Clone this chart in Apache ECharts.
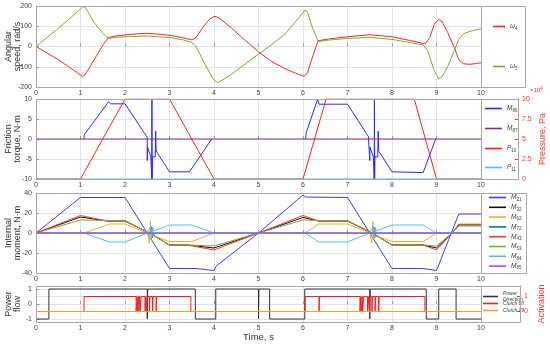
<!DOCTYPE html>
<html><head><meta charset="utf-8">
<script src="https://cdn.jsdelivr.net/npm/echarts@6/dist/echarts.min.js"></script>
<style>html,body{margin:0;padding:0;background:#fff}#c{width:550px;height:344px}</style>
</head><body><div id="c"></div><script>
// ---------- tick values ----------
const timeTicks = [0,1,2,3,4,5,6,7,8,9,10];
const speedTicks = [-200,-100,0,100,200];
const torqueTicks = [-10,-5,0,5,10];
const pressureTicks = [0,25000,50000,75000,100000];
const momentTicks = [-40,-20,0,20,40];
const flowTicks = [-1,0,1];
const activationTicks = [0,1];

// ---------- panel 1: angular speed (rad/s) ----------
const omega4 = [[0,0],[0.5,-65],[0.9,-125],[1.0,-142],[1.05,-147],[1.1,-140],[1.2,-105],[1.35,-50],[1.5,5],[1.63,45],[1.8,52],[2.0,57],[2.3,63],[2.5,65],[2.8,60],[3.0,55],[3.3,43],[3.5,33],[3.6,45],[3.75,95],[3.9,135],[4.0,148],[4.05,148],[4.15,135],[4.4,90],[4.7,30],[5.0,-26],[5.3,-75],[5.6,-110],[5.9,-138],[6.03,-147],[6.1,-130],[6.2,-60],[6.34,28],[6.6,38],[7.0,48],[7.5,58],[8.0,48],[8.4,30],[8.7,15],[8.75,14],[8.85,45],[8.95,110],[9.05,134],[9.12,125],[9.25,70],[9.4,-5],[9.5,-65],[9.6,-85],[9.75,-88],[9.9,-84],[10,-80]];
const omega5 = [[0,0],[0.5,90],[0.9,165],[1.0,185],[1.06,198],[1.12,190],[1.3,120],[1.5,65],[1.63,40],[1.8,45],[2.0,48],[2.5,52],[3.0,44],[3.3,33],[3.5,20],[3.6,0],[3.8,-90],[4.0,-165],[4.08,-178],[4.2,-165],[4.5,-120],[4.8,-70],[5.0,-38],[5.3,10],[5.6,62],[5.9,140],[6.04,180],[6.1,170],[6.2,100],[6.34,25],[6.6,32],[7.0,40],[7.5,45],[8.0,35],[8.4,20],[8.7,8],[8.8,-20],[8.95,-120],[9.05,-160],[9.12,-150],[9.25,-100],[9.4,-20],[9.5,35],[9.6,62],[9.75,75],[10,88]];

// ---------- panel 2: friction torque (N·m) and pressure (Pa) ----------
const M86 = [[1.08,0],[1.08,1],[1.63,9.3],[1.68,8.8],[2.0,8.8],[2.5,0.4],[2.5,-5.4],[2.505,-2],[2.58,-4.4],[2.6,-4.4],[2.6,-10],[2.605,10],[2.61,-10],[2.615,-4.4],[2.68,-4.5],[2.69,2],[2.7,-3],[3.0,-8.2],[3.45,-8.2],[3.95,0],null,[6.06,0],[6.07,1.5],[6.33,10],[6.36,8.7],[7.0,8.7],[7.47,0.6],[7.5,-5.4],[7.505,-2],[7.58,-4.4],[7.6,-4.4],[7.6,-10],[7.605,10],[7.61,-10],[7.615,-4.4],[7.68,-4.5],[7.69,2],[7.7,-3],[8.0,-8.2],[8.7,-8.4],[8.98,0]];
const M87 = [[0,0],[10,0]];
const P10 = [[0,0],[1.0,0],[2.0,100000],[3.0,100000],[4.0,0],[6.0,0],[6.52,100000],[8.5,100000],[9.0,0],[10,0]];
const P11 = [[0,0],[10,0]];

// ---------- panel 3: internal moments (N·m) ----------
const M21 = [[0,0],[1.0,35.5],[2.0,35.5],[3.0,-35.5],[3.6,-35.5],[3.62,-37.5],[4.0,-37.5],[4.05,-33],[5.0,0],[6.0,38],[6.05,36],[7.0,35.5],[8.0,-35.5],[8.7,-35.5],[8.72,-37.5],[9.0,-37.5],[9.05,-32],[9.5,19],[10,19]];
const M32 = [[0,0],[1.0,16],[1.6,12],[2.0,12],[2.55,0],[3.0,-12],[3.4,-12],[4.0,-15],[5.0,0],[6.0,15.5],[6.35,12],[7.0,12],[7.55,0],[8.0,-12],[8.7,-12],[9.0,-15],[9.35,0],[9.5,8],[10,8]];
const M62 = [[0,0],[1.08,0],[1.65,9],[2.0,9],[2.5,0],[2.55,-10],[2.57,12],[2.59,-6],[2.62,3],[2.65,-3],[3.0,-8.5],[3.5,-8.5],[4.0,0],[6.05,0],[6.35,9],[7.0,9],[7.5,0],[7.55,-10],[7.57,12],[7.59,-6],[7.62,3],[7.65,-3],[8.0,-8.5],[8.7,-8.5],[9.0,0],[10,0]];
const M72 = [[0,0],[2.58,0],[2.6,6],[2.61,-5],[2.63,0],[7.58,0],[7.6,6],[7.61,-5],[7.63,0],[10,0]];
const M43 = [[0,0],[1.0,17.5],[1.6,12],[2.0,12],[2.55,0],[3.0,-12],[3.4,-12],[4.0,-17],[5.0,0],[6.0,17.5],[6.35,12],[7.0,12],[7.55,0],[8.0,-12],[8.7,-12],[9.0,-17],[9.35,0],[9.5,8.8],[10,8.8]];
const M53 = [[0,0],[1.0,13],[1.6,12.5],[2.0,12.5],[2.55,0],[3.0,-12],[3.4,-12],[4.0,-13],[5.0,0],[6.0,13],[6.35,12.5],[7.0,12.5],[7.55,0],[8.0,-12],[8.7,-12],[9.0,-13],[9.35,0],[9.5,7],[10,7]];
const M84 = [[0,0],[1.08,0],[1.65,-9],[2.0,-9],[2.5,0],[2.58,7],[2.6,-5],[2.62,6],[2.65,2],[2.7,3],[3.0,8],[3.5,8],[4.0,0],[6.05,0],[6.35,-9],[7.0,-9],[7.5,0],[7.58,7],[7.6,-5],[7.62,6],[7.65,2],[7.7,3],[8.0,8],[8.7,8],[9.0,0],[10,0]];
const M85 = [[0,0],[10,0]];

// ---------- panel 4: power flow and clutch activation (step data) ----------
const powerDirection = [[0,-1],[0.29,1],[2.5,-1],[2.51,1],[3.58,-1],[4.04,1],[5.0,-1],[5.01,1],[5.25,-1],[6.04,1],[7.5,-1],[7.51,1],[8.77,-1],[9.05,1],[9.44,-1],[10,-1]];
const clutch68 = [[0,0],[1.08,1],[2.25,0],[2.27,1],[2.28,0],[2.30,1],[2.31,0],[2.33,1],[2.34,0],[2.36,1],[2.45,0],[2.47,1],[2.49,0],[2.5,1],[2.55,0],[2.56,1],[2.62,0],[2.63,1],[2.7,0],[2.71,1],[3.48,0],[6.05,1],[6.36,0],[6.37,1],[7.28,0],[7.30,1],[7.31,0],[7.33,1],[7.34,0],[7.36,1],[7.45,0],[7.47,1],[7.49,0],[7.5,1],[7.55,0],[7.56,1],[7.62,0],[7.63,1],[7.7,0],[7.71,1],[8.74,0],[10,0]];
const clutch79 = [[0,0],[10,0]];

// ---------- chart ----------
const FF = 'Liberation Sans, Arial, sans-serif';
const GRID_C = '#e4e4e4', FRAME_C = '#a8a8a8', TXT = '#404040', RED = '#ff2a2a';
const L = 36, W = 445;
const panels = [{top:6,h:81,box:44},{top:99,h:80,box:37},{top:193,h:80,box:45},{top:286,h:36,box:39}];

function xAx(gi, extra){
  return Object.assign({gridIndex:gi,type:'value',min:timeTicks[0],max:timeTicks[timeTicks.length-1],interval:1,
    axisLine:{show:false},axisTick:{show:true,inside:true,length:3,lineStyle:{color:'#999'}},
    axisLabel:{fontSize:7,color:TXT,margin:3,fontFamily:FF},
    splitLine:{show:true,lineStyle:{color:GRID_C,width:1}}},extra||{});
}
function yAx(gi, ticks, name, extra){
  return Object.assign({gridIndex:gi,type:'value',min:ticks[0],max:ticks[ticks.length-1],interval:ticks[1]-ticks[0],
    axisLine:{show:false},axisTick:{show:true,inside:true,length:3,lineStyle:{color:'#999'}},
    axisLabel:{fontSize:7,color:TXT,margin:4,fontFamily:FF},
    splitLine:{show:true,lineStyle:{color:GRID_C,width:1}},
    name:name,nameLocation:'middle',nameRotate:90,nameGap:14,nameMoveOverlap:false,
    nameTextStyle:{fontSize:9,lineHeight:9,color:'#333',fontFamily:FF}},extra||{});
}
function ln(name,data,color,xi,yi,extra){
  return Object.assign({name:name,type:'line',data:data,xAxisIndex:xi,yAxisIndex:yi,symbol:'none',showSymbol:false,
    color:color,lineStyle:{color:color,width:1},itemStyle:{color:color},animation:false,connectNulls:false,z:3},extra||{});
}
const rich = {n:{fontSize:6.5,fontStyle:'italic',color:TXT,fontFamily:FF},s:{fontSize:4.5,color:TXT,fontFamily:FF,padding:[4,0,0,0]},t:{fontSize:5,fontStyle:'italic',color:TXT,fontFamily:FF,lineHeight:6}};
function fmt(name){
  const m = name.match(/^([A-Za-zω]+)(\d+)$/);
  if(m) return '{n|'+m[1]+'}{s|'+m[2]+'}';
  if(name==='Power Direction') return '{t|Power}\n{t|Direction}';
  return '{t|'+name+'}';
}
function leg(name,left,cy,w){
  return {data:[name],left:left,top:cy-5,orient:'vertical',padding:0,itemGap:0,itemWidth:w,itemHeight:1.6,icon:'rect',
    selectedMode:false,formatter:fmt,textStyle:{rich:rich,fontSize:6.5,color:TXT}};
}

const legends = [
  leg('ω4',493,28,12), leg('ω5',493,68,12),
  leg('M86',485,110,17), leg('M87',485,130,17), leg('P10',485,150,17), leg('P11',485,169,17),
];
['M21','M32','M62','M72','M43','M53','M84','M85'].forEach((n,i)=>legends.push(leg(n,489,199+i*9.8,17)));
legends.push(leg('Power Direction',483,296,15), leg('Clutch 68',483,306,15), leg('Clutch 79',483,313,15));

const graphics = [];
panels.forEach(p=>{
  graphics.push({type:'rect',z:100,silent:true,shape:{x:L+0.5,y:p.top+0.5,width:W,height:p.h},style:{fill:null,stroke:FRAME_C,lineWidth:1}});
  graphics.push({type:'rect',z:100,silent:true,shape:{x:L+W+0.5,y:p.top+0.5,width:p.box,height:p.h},style:{fill:null,stroke:FRAME_C,lineWidth:1}});
});
graphics.push({type:'text',z:100,left:530,top:86,style:{text:'×10{s|4}',fill:RED,fontSize:6,fontFamily:FF,rich:{s:{fontSize:4.5,fill:RED,padding:[0,0,4,0]}}}});

const option = {
  animation:false,
  backgroundColor:'#fff',
  textStyle:{fontFamily:FF},
  grid: panels.map(p=>({left:L,top:p.top,width:W,height:p.h,show:false,containLabel:false,outerBoundsMode:'none'})),
  xAxis:[xAx(0),xAx(1),xAx(2),xAx(3,{name:'Time, s',nameLocation:'middle',nameGap:10,nameMoveOverlap:false,nameTextStyle:{fontSize:9.5,color:'#333',fontFamily:FF,verticalAlign:'top'}})],
  yAxis:[
    yAx(0,speedTicks,'Angular\nspeed, rad/s'),
    yAx(1,torqueTicks,'Friction\ntorque, N·m'),
    {gridIndex:1,type:'value',position:'right',offset:37,min:pressureTicks[0],max:pressureTicks[pressureTicks.length-1],interval:pressureTicks[1]-pressureTicks[0],
      axisLine:{show:true,lineStyle:{color:RED}},axisTick:{show:true,inside:true,length:3,lineStyle:{color:RED}},
      axisLabel:{color:RED,fontSize:7,margin:4,fontFamily:FF,formatter:v=>String(v/10000)},splitLine:{show:false},
      name:'Pressure, Pa',nameLocation:'middle',nameRotate:90,nameGap:20,nameMoveOverlap:false,nameTextStyle:{color:RED,fontSize:9,fontFamily:FF}},
    yAx(2,momentTicks,'Internal\nmoment, N·m'),
    yAx(3,[-1.2,1.2],'Power\nflow',{interval:null,axisLabel:{fontSize:7,color:TXT,margin:4,fontFamily:FF,customValues:flowTicks},axisTick:{show:true,inside:true,length:3,lineStyle:{color:'#999'},customValues:flowTicks},splitLine:{show:false}}),
    {gridIndex:3,type:'value',position:'right',offset:39,min:-0.7,max:1.7,
      axisLine:{show:true,lineStyle:{color:RED}},axisTick:{show:true,inside:true,length:3,lineStyle:{color:RED},customValues:activationTicks},
      axisLabel:{color:RED,fontSize:7,margin:4,fontFamily:FF,customValues:activationTicks},splitLine:{show:false},
      name:'Activation',nameLocation:'middle',nameRotate:90,nameGap:17,nameMoveOverlap:false,nameTextStyle:{color:RED,fontSize:9,fontFamily:FF}}
  ],
  legend: legends,
  graphic: graphics,
  series:[
    ln('ω4',omega4,'#ff2020',0,0), ln('ω5',omega5,'#77ac30',0,0),
    ln('M86',M86,'#2a2aff',1,1), ln('M87',M87,'#7e2f8e',1,1), ln('P10',P10,'#ff1a1a',1,2), ln('P11',P11,'#4dbeee',1,2),
    ln('M21',M21,'#3b3bf0',2,3), ln('M32',M32,'#111111',2,3), ln('M62',M62,'#edb120',2,3), ln('M72',M72,'#0072bd',2,3),
    ln('M43',M43,'#ff3030',2,3), ln('M53',M53,'#77ac30',2,3), ln('M84',M84,'#4dbeee',2,3), ln('M85',M85,'#b040ff',2,3),
    {type:'line',data:[],xAxisIndex:3,yAxisIndex:4,z:0,silent:true,markLine:{z:0,silent:true,symbol:'none',animation:false,label:{show:false},
      lineStyle:{color:GRID_C,type:'solid',width:1},data:[{yAxis:-1},{yAxis:-0.5},{yAxis:0},{yAxis:0.5},{yAxis:1}]}},
    ln('Power Direction',powerDirection,'#333333',3,4,{step:'end'}),
    ln('Clutch 68',clutch68,'#ff1a1a',3,5,{step:'end'}),
    ln('Clutch 79',clutch79,'#f0a020',3,5,{step:'end'})
  ]
};
const chart = echarts.init(document.getElementById('c'),null,{renderer:'canvas'});
chart.setOption(option);
</script></body></html>
